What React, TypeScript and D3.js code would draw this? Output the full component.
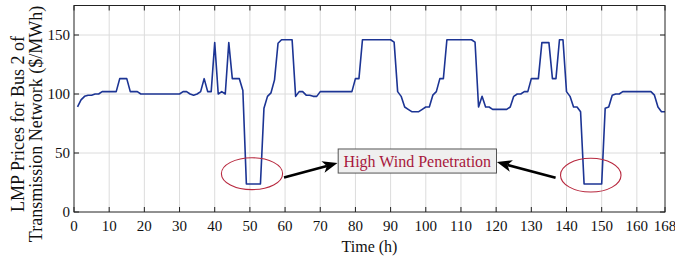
import React from "react";
import * as d3 from "d3";

const W = 675;
const H = 263;
const M = { left: 74, right: 10, top: 5.5, bottom: 51 };

// LMP price, hours 1..168
const prices: number[] = [
  89, 95, 98, 99, 99, 100, 100, 102, 102, 102, // 1-10
  102, 102, 113, 113, 113, 102, 102, 102, 100, 100, // 11-20
  100, 100, 100, 100, 100, 100, 100, 100, 100, 100, // 21-30
  102, 102, 100, 99, 100, 102, 113, 102, 102, 143.5, // 31-40
  100, 102, 100, 143.5, 113, 113, 113, 103, 23.7, 23.7, // 41-50
  23.7, 23.7, 23.7, 88, 98, 101, 112, 143, 146, 146, // 51-60
  146, 146, 98, 102, 102, 99, 99, 98, 98, 102, // 61-70
  102, 102, 102, 102, 102, 102, 102, 102, 102, 113, // 71-80
  113, 146, 146, 146, 146, 146, 146, 146, 146, 146, // 81-90
  144, 102, 98, 89, 87, 85, 85, 85, 87, 89, // 91-100
  89, 99, 102, 113, 113, 146, 146, 146, 146, 146, // 101-110
  146, 146, 146, 144, 89, 98, 89, 89, 87, 87, // 111-120
  87, 87, 87, 89, 98, 100, 100, 102, 102, 113, // 121-130
  113, 113, 143.5, 143.5, 143.5, 113, 113, 146, 146, 102, // 131-140
  98, 89, 89, 85, 23.7, 23.7, 23.7, 23.7, 23.7, 23.7, // 141-150
  88, 89, 99, 100, 100, 102, 102, 102, 102, 102, // 151-160
  102, 102, 102, 102, 99, 89, 85, 85, // 161-168
];

const xTicks = [0, 10, 20, 30, 40, 50, 60, 70, 80, 90, 100, 110, 120, 130, 140, 150, 160, 168];
const yTicks = [0, 50, 100, 150];

// annotation anchors in data units [hour, price]
const ellipses = [
  { c: [50.6, 32.5], r: [8.7, 13.5] },
  { c: [146.9, 31.2], r: [8.6, 14.3] },
];
const noteBox = { x0: 75.1, x1: 120.1, y0: 53.4, y1: 33, text: "High Wind Penetration" };
const arrows = [
  { from: [59.7, 29.3], to: [74.9, 41.5] },
  { from: [136.9, 29], to: [120.2, 42.3] },
];

const FONT = "'Liberation Serif', 'Times New Roman', serif";

export default function App() {
  const x = d3.scaleLinear().domain([0, 168]).range([M.left, W - M.right]);
  const y = d3.scaleLinear().domain([0, 175]).range([H - M.bottom, M.top]);
  const data = prices.map((v, i) => [i + 1, v] as [number, number]);
  const line = d3
    .line<[number, number]>()
    .x((d) => x(d[0]))
    .y((d) => y(d[1]));

  const x0 = x(0), x1 = x(168), y0 = y(0), y1 = y(175);
  const tl = 5;

  const arrowEls = arrows.map((a, i) => {
    const sx = x(a.from[0]), sy = y(a.from[1]);
    const ex = x(a.to[0]), ey = y(a.to[1]);
    const ang = Math.atan2(ey - sy, ex - sx);
    const hl = 15, hw = 6;
    const bx = ex - hl * Math.cos(ang), by = ey - hl * Math.sin(ang);
    const nx = -Math.sin(ang), ny = Math.cos(ang);
    const notch = 4;
    const mx = bx + notch * Math.cos(ang), my = by + notch * Math.sin(ang);
    const pts = [
      [ex, ey],
      [bx + nx * hw, by + ny * hw],
      [mx, my],
      [bx - nx * hw, by - ny * hw],
    ];
    return (
      <g key={i}>
        <line x1={sx} y1={sy} x2={mx} y2={my} stroke="#000" strokeWidth={2.6} />
        <polygon points={pts.map((p) => p.join(",")).join(" ")} fill="#000" />
      </g>
    );
  });

  return (
    <svg
      width={W}
      height={H}
      style={{ position: "absolute", left: 0, top: 0, background: "#fff" }}
      fontFamily={FONT}
    >
      {/* grid */}
      {xTicks.slice(1, -1).map((t) => (
        <line key={"gx" + t} x1={x(t)} x2={x(t)} y1={y1} y2={y0} stroke="#dcdcdc" strokeWidth={1} />
      ))}
      {yTicks.slice(1).map((t) => (
        <line key={"gy" + t} x1={x0} x2={x1} y1={y(t)} y2={y(t)} stroke="#dcdcdc" strokeWidth={1} />
      ))}
      {/* ticks */}
      {xTicks.map((t) => (
        <g key={"tx" + t}>
          <line x1={x(t)} x2={x(t)} y1={y0} y2={y0 - tl} stroke="#222" />
          <line x1={x(t)} x2={x(t)} y1={y1} y2={y1 + tl} stroke="#222" />
          <text x={x(t)} y={231} fontSize={15} textAnchor="middle" fill="#111">
            {t}
          </text>
        </g>
      ))}
      {yTicks.map((t) => (
        <g key={"ty" + t}>
          <line x1={x0} x2={x0 + tl} y1={y(t)} y2={y(t)} stroke="#222" />
          <line x1={x1} x2={x1 - tl} y1={y(t)} y2={y(t)} stroke="#222" />
          <text x={x0 - 4} y={y(t)} dy="0.33em" fontSize={15} textAnchor="end" fill="#111">
            {t}
          </text>
        </g>
      ))}
      {/* data line */}
      <path d={line(data) || ""} fill="none" stroke="#1c3494" strokeWidth={1.6} strokeLinejoin="round" />
      {/* annotations */}
      {ellipses.map((e, i) => (
        <ellipse
          key={"e" + i}
          cx={x(e.c[0])}
          cy={y(e.c[1])}
          rx={x(e.r[0]) - x(0)}
          ry={y(0) - y(e.r[1])}
          fill="none"
          stroke="#b8293f"
          strokeWidth={1.1}
        />
      ))}
      {arrowEls}
      <rect
        x={x(noteBox.x0)}
        y={y(noteBox.y0)}
        width={x(noteBox.x1) - x(noteBox.x0)}
        height={y(noteBox.y1) - y(noteBox.y0)}
        fill="#efefef"
        stroke="#555"
        strokeWidth={1}
      />
      <text
        x={(x(noteBox.x0) + x(noteBox.x1)) / 2}
        y={166.7}
        fontSize={16}
        textAnchor="middle"
        fill="#a8183c"
      >
        {noteBox.text}
      </text>
      {/* frame */}
      <rect x={x0} y={y1} width={x1 - x0} height={y0 - y1} fill="none" stroke="#222" strokeWidth={1} />
      {/* axis titles */}
      <text x={(x0 + x1) / 2} y={252} fontSize={16} textAnchor="middle" fill="#111">
        Time (h)
      </text>
      <g transform="translate(24,124) rotate(-90)">
        <text x={0} y={0} fontSize={18} textAnchor="middle" fill="#111">
          LMP Prices for Bus 2 of
        </text>
        <text x={0} y={17.5} fontSize={18} textAnchor="middle" fill="#111">
          Transmission Network ($/MWh)
        </text>
      </g>
    </svg>
  );
}
